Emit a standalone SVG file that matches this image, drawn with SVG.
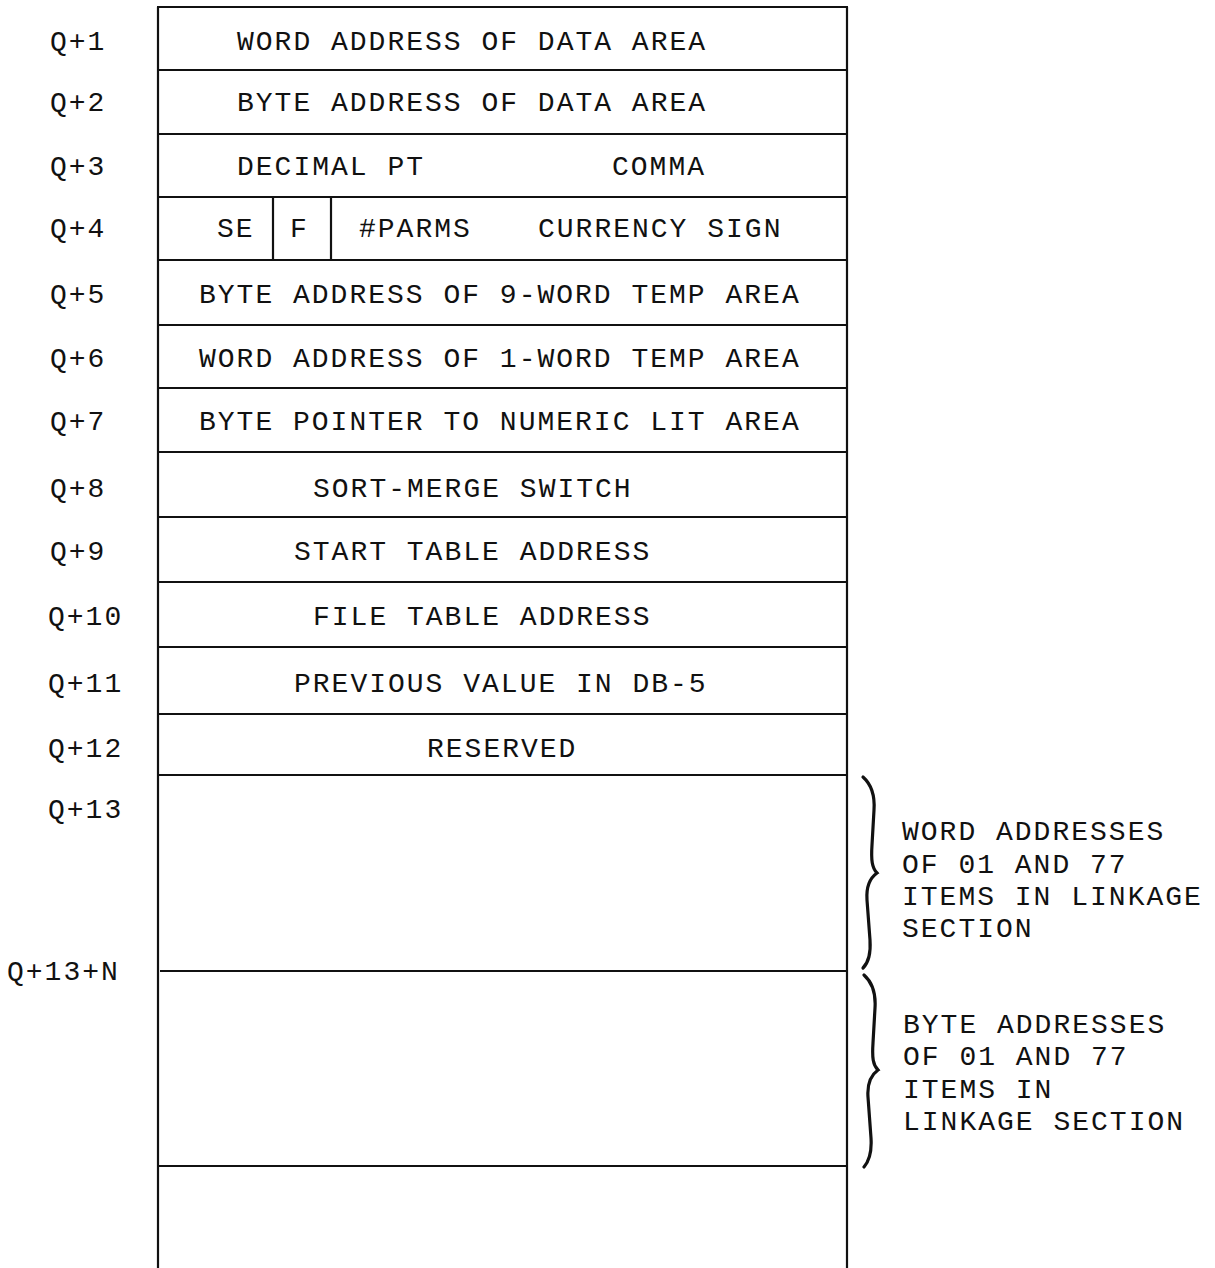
<svg xmlns="http://www.w3.org/2000/svg" width="1215" height="1268" viewBox="0 0 1215 1268">
<style>
text{font-family:"Liberation Mono","DejaVu Sans Mono",monospace;font-size:28px;letter-spacing:2px;fill:#111}
.ln{stroke:#111;stroke-width:2.2;fill:none}
.br{stroke:#111;stroke-width:3.2;fill:none;stroke-linecap:round}
</style>
<rect width="1215" height="1268" fill="#fff"/>
<g id="frame">
<line class="ln" x1="158" y1="7" x2="158" y2="1268"/>
<line class="ln" x1="847" y1="7" x2="847" y2="1268"/>
<line class="ln" x1="157" y1="7" x2="848" y2="7"/>
</g>
<g id="q1"><line class="ln" x1="158" y1="70" x2="847" y2="70"/><text x="50" y="50">Q+1</text><text x="237" y="50">WORD ADDRESS OF DATA AREA</text></g>
<g id="q2"><line class="ln" x1="158" y1="134" x2="847" y2="134"/><text x="50" y="111">Q+2</text><text x="237" y="111">BYTE ADDRESS OF DATA AREA</text></g>
<g id="q3"><line class="ln" x1="158" y1="197" x2="847" y2="197"/><text x="50" y="175">Q+3</text><text x="237" y="175">DECIMAL PT</text><text x="612" y="175">COMMA</text></g>
<g id="q4"><line class="ln" x1="158" y1="260" x2="847" y2="260"/><line class="ln" x1="273" y1="197" x2="273" y2="260"/><line class="ln" x1="331" y1="197" x2="331" y2="260"/><text x="50" y="237">Q+4</text><text x="217" y="237">SE</text><text x="290" y="237">F</text><text x="359" y="237">#PARMS</text><text x="538" y="237">CURRENCY SIGN</text></g>
<g id="q5"><line class="ln" x1="158" y1="325" x2="847" y2="325"/><text x="50" y="303">Q+5</text><text x="199" y="303">BYTE ADDRESS OF 9-WORD TEMP AREA</text></g>
<g id="q6"><line class="ln" x1="158" y1="388" x2="847" y2="388"/><text x="50" y="367">Q+6</text><text x="199" y="367">WORD ADDRESS OF 1-WORD TEMP AREA</text></g>
<g id="q7"><line class="ln" x1="158" y1="452" x2="847" y2="452"/><text x="50" y="430">Q+7</text><text x="199" y="430">BYTE POINTER TO NUMERIC LIT AREA</text></g>
<g id="q8"><line class="ln" x1="158" y1="517" x2="847" y2="517"/><text x="50" y="497">Q+8</text><text x="313" y="497">SORT-MERGE SWITCH</text></g>
<g id="q9"><line class="ln" x1="158" y1="582" x2="847" y2="582"/><text x="50" y="560">Q+9</text><text x="294" y="560">START TABLE ADDRESS</text></g>
<g id="q10"><line class="ln" x1="158" y1="647" x2="847" y2="647"/><text x="48" y="625">Q+10</text><text x="313" y="625">FILE TABLE ADDRESS</text></g>
<g id="q11"><line class="ln" x1="158" y1="714" x2="847" y2="714"/><text x="48" y="692">Q+11</text><text x="294" y="692">PREVIOUS VALUE IN DB-5</text></g>
<g id="q12"><line class="ln" x1="158" y1="775" x2="847" y2="775"/><text x="48" y="757">Q+12</text><text x="427" y="757">RESERVED</text></g>
<g id="q13"><line class="ln" x1="160" y1="971" x2="847" y2="971"/><text x="48" y="818">Q+13</text></g>
<g id="q13n"><line class="ln" x1="158" y1="1166" x2="847" y2="1166"/><text x="7" y="980">Q+13+N</text></g>
<g id="connectors">
<path class="br" d="M863,777 C872,785 875,795 874,810 L872,845 C871,860 872,868 877,873 C870,878 866,886 867,900 L870,940 C871,955 868,963 863,968"/>
<path class="br" d="M864,975 C873,983 876,993 875,1008 L873,1043 C872,1058 873,1065 878,1070 C871,1075 867,1083 868,1097 L871,1138 C872,1153 869,1161 864,1167"/>
</g>
<g id="note-word">
<text x="902" y="840">WORD ADDRESSES</text>
<text x="902" y="873">OF 01 AND 77</text>
<text x="902" y="905">ITEMS IN LINKAGE</text>
<text x="902" y="937">SECTION</text>
</g>
<g id="note-byte">
<text x="903" y="1033">BYTE ADDRESSES</text>
<text x="903" y="1065">OF 01 AND 77</text>
<text x="903" y="1098">ITEMS IN</text>
<text x="903" y="1130">LINKAGE SECTION</text>
</g>
</svg>
